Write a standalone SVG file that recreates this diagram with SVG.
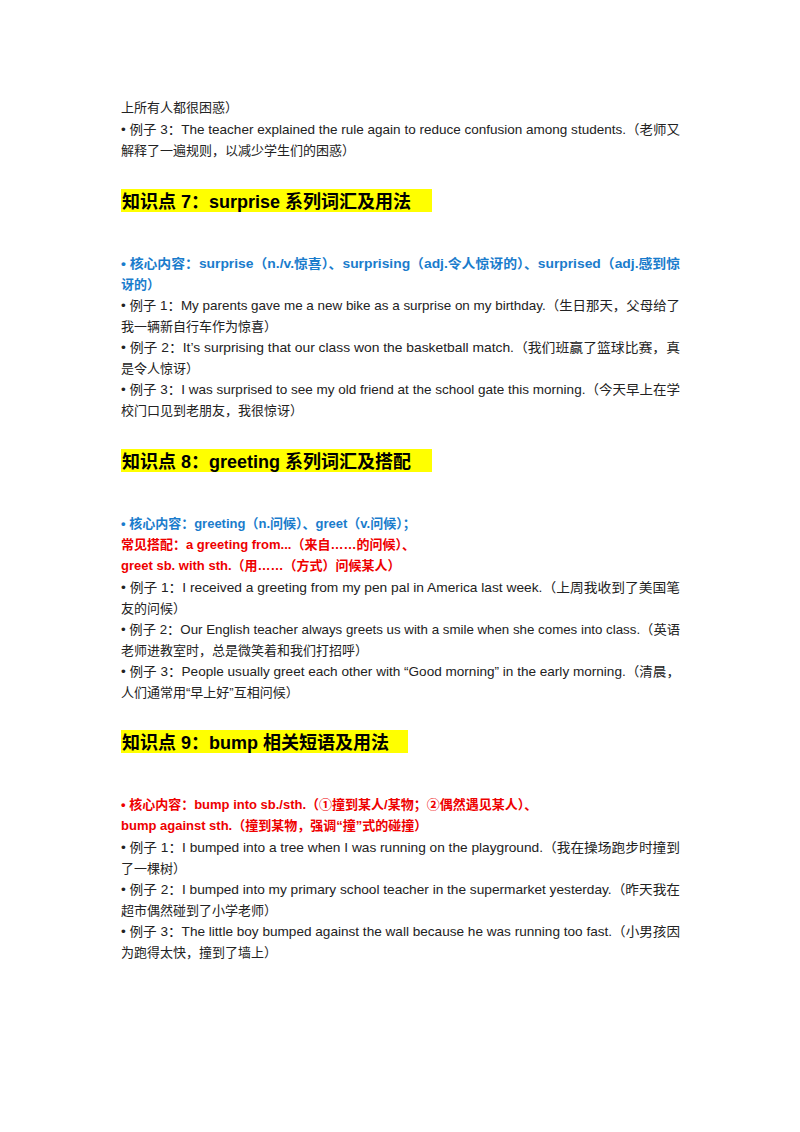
<svg xmlns="http://www.w3.org/2000/svg" width="800" height="1132" viewBox="0 0 800 1132">
<style>
text{font-family:"Liberation Sans","Noto Sans CJK SC",sans-serif;font-size:13px;fill:#222}
.h{font-size:18px;font-weight:bold;fill:#000}
.b{fill:#1a7ccc;font-weight:bold}
.r{fill:#ee0000;font-weight:bold}
.hl{fill:#ffff00}
</style>
<rect width="800" height="1132" fill="#fff"/>
<text x="121" y="112">上所有人都很困惑）</text>
<text x="121" y="134" textLength="559" lengthAdjust="spacingAndGlyphs">• 例子 3：The teacher explained the rule again to reduce confusion among students.（老师又</text>
<text x="121" y="155">解释了一遍规则，以减少学生们的困惑）</text>
<g id="h7"><rect class="hl" x="121" y="189" width="311" height="23"/><text class="h" x="122" y="208">知识点 7：surprise 系列词汇及用法</text></g>
<text class="b" x="121" y="268" textLength="559" lengthAdjust="spacingAndGlyphs">• 核心内容：surprise（n./v.惊喜）、surprising（adj.令人惊讶的）、surprised（adj.感到惊</text>
<text class="b" x="121" y="289">讶的）</text>
<text x="121" y="310" textLength="559" lengthAdjust="spacingAndGlyphs">• 例子 1：My parents gave me a new bike as a surprise on my birthday.（生日那天，父母给了</text>
<text x="121" y="331">我一辆新自行车作为惊喜）</text>
<text x="121" y="352" textLength="559" lengthAdjust="spacingAndGlyphs">• 例子 2：It’s surprising that our class won the basketball match.（我们班赢了篮球比赛，真</text>
<text x="121" y="373">是令人惊讶）</text>
<text x="121" y="394" textLength="559" lengthAdjust="spacingAndGlyphs">• 例子 3：I was surprised to see my old friend at the school gate this morning.（今天早上在学</text>
<text x="121" y="415">校门口见到老朋友，我很惊讶）</text>
<g id="h8"><rect class="hl" x="121" y="449" width="311" height="23"/><text class="h" x="122" y="468">知识点 8：greeting 系列词汇及搭配</text></g>
<text class="b" x="121" y="528">• 核心内容：greeting（n.问候）、greet（v.问候）；</text>
<text class="r" x="121" y="549">常见搭配：a greeting from...（来自……的问候）、</text>
<text class="r" x="121" y="570">greet sb. with sth.（用……（方式）问候某人）</text>
<text x="121" y="592" textLength="559" lengthAdjust="spacingAndGlyphs">• 例子 1：I received a greeting from my pen pal in America last week.（上周我收到了美国笔</text>
<text x="121" y="613">友的问候）</text>
<text x="121" y="634" textLength="559" lengthAdjust="spacingAndGlyphs">• 例子 2：Our English teacher always greets us with a smile when she comes into class.（英语</text>
<text x="121" y="655">老师进教室时，总是微笑着和我们打招呼）</text>
<text x="121" y="676" textLength="559" lengthAdjust="spacingAndGlyphs">• 例子 3：People usually greet each other with “Good morning” in the early morning.（清晨，</text>
<text x="121" y="697">人们通常用“早上好”互相问候）</text>
<g id="h9"><rect class="hl" x="121" y="730" width="287" height="23"/><text class="h" x="122" y="749">知识点 9：bump 相关短语及用法</text></g>
<text class="r" x="121" y="809">• 核心内容：bump into sb./sth.（①撞到某人/某物；②偶然遇见某人）、</text>
<text class="r" x="121" y="830">bump against sth.（撞到某物，强调“撞”式的碰撞）</text>
<text x="121" y="852" textLength="559" lengthAdjust="spacingAndGlyphs">• 例子 1：I bumped into a tree when I was running on the playground.（我在操场跑步时撞到</text>
<text x="121" y="873">了一棵树）</text>
<text x="121" y="894" textLength="559" lengthAdjust="spacingAndGlyphs">• 例子 2：I bumped into my primary school teacher in the supermarket yesterday.（昨天我在</text>
<text x="121" y="915">超市偶然碰到了小学老师）</text>
<text x="121" y="936" textLength="559" lengthAdjust="spacingAndGlyphs">• 例子 3：The little boy bumped against the wall because he was running too fast.（小男孩因</text>
<text x="121" y="957">为跑得太快，撞到了墙上）</text>
</svg>
